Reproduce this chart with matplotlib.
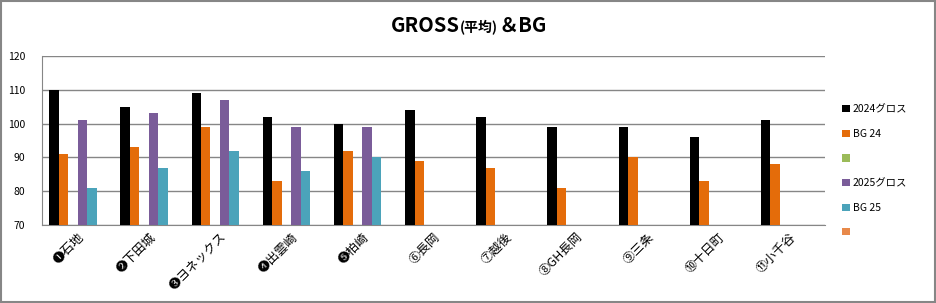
import numpy as np
import matplotlib.pyplot as plt
from matplotlib.patches import Rectangle

plt.rcParams['font.family'] = ['Noto Sans CJK JP', 'DejaVu Sans']

stores = ['❶石地', '❷下田城', '❸ヨネックス', '❹出雲崎', '❺柏崎', '⑥長岡',
          '⑦越後', '⑧GH長岡', '⑨三条', '⑩十日町', '⑪小千谷']
gross24 = [110, 105, 109, 102, 100, 104, 102, 99, 99, 96, 101]
bg24 = [91, 93, 99, 83, 92, 89, 87, 81, 90, 83, 88]
blank1 = [np.nan] * 11
gross25 = [101, 103, 107, 99, 99, np.nan, np.nan, np.nan, np.nan, np.nan, np.nan]
bg25 = [81, 87, 92, 86, 90, np.nan, np.nan, np.nan, np.nan, np.nan, np.nan]
blank2 = [np.nan] * 11

series = [
    ('2024グロス', gross24, '#000000'),
    ('BG 24', bg24, '#E46C0A'),
    (' ', blank1, '#9BBB59'),
    ('2025グロス', gross25, '#7A5C99'),
    ('BG 25', bg25, '#4BA3BA'),
    ('  ', blank2, '#E8894A'),
]

fig = plt.figure(figsize=(9.37, 3.03), dpi=100)
ax = fig.add_axes([0.0448, 0.2574, 0.8357, 0.5578])

x = np.arange(len(stores))
w = 0.133
for i, (name, vals, col) in enumerate(series):
    v = np.array(vals, dtype=float)
    ax.bar(x + (i - 2.5) * w, v - 70, bottom=70, width=w, color=col, label=name,
           zorder=3)

ax.set_ylim(70, 120)
ax.set_xlim(-0.5, len(stores) - 0.5)
ax.set_yticks(range(70, 121, 10))
ax.yaxis.grid(True, color='#868686', linewidth=1, zorder=0)
ax.tick_params(axis='y', length=0, labelsize=7.5, pad=12)
ax.tick_params(axis='x', length=0, pad=4)
ax.set_xticks(x)
ax.set_xticklabels(stores, rotation=45, ha='right', rotation_mode='anchor',
                   fontsize=9)
for s in ['top', 'right']:
    ax.spines[s].set_visible(False)
for s in ['left', 'bottom']:
    ax.spines[s].set_color('#868686')

leg = ax.legend(loc='center left', bbox_to_anchor=(1.01, 0.32), frameon=False,
                fontsize=7.5, handlelength=0.7, handleheight=0.7,
                handletextpad=0.3, labelspacing=1.4)

# title with smaller middle part
fig.canvas.draw()
r = fig.canvas.get_renderer()
parts = [('GROSS', 14.5), ('(平均)', 10), ('＆BG', 14.5)]
texts = []
for s, fs in parts:
    texts.append(fig.text(0, 0.894, s, fontsize=fs, fontweight='bold',
                          va='baseline'))
widths = [t.get_window_extent(r).width for t in texts]
total = sum(widths)
xpos = 469 - total / 2
for t, wd in zip(texts, widths):
    t.set_x(xpos / 937)
    xpos += wd

fig.patches.append(Rectangle((0.001, 0.002), 0.997, 0.995,
                             transform=fig.transFigure, fill=False,
                             edgecolor='#868686', linewidth=1.5))

fig.savefig('out.png', dpi=100)
